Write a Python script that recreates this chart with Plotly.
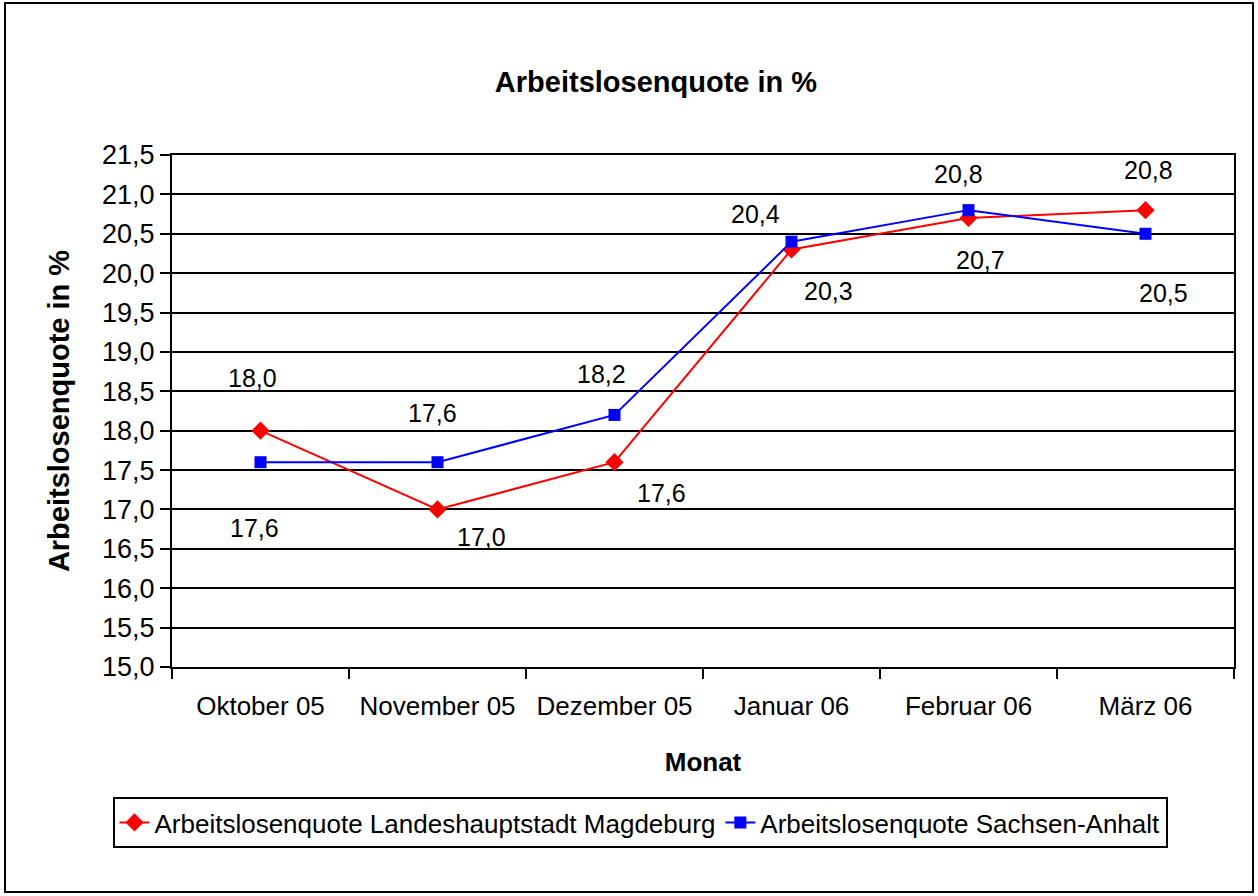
import plotly.graph_objects as go

months = ["Oktober 05", "November 05", "Dezember 05", "Januar 06", "Februar 06", "März 06"]
magdeburg = [18.0, 17.0, 17.6, 20.3, 20.7, 20.8]
sachsen_anhalt = [17.6, 17.6, 18.2, 20.4, 20.8, 20.5]
name_md = "Arbeitslosenquote Landeshauptstadt Magdeburg"
name_sa = "Arbeitslosenquote Sachsen-Anhalt"
title_text = "Arbeitslosenquote in %"
y_title = "Arbeitslosenquote in %"
x_title = "Monat"

# label pixel offsets (dx right, dy down)
md_offsets = [(-8, -53), (44, 28), (47, 31), (37, 41), (12, 42), (3, -40)]
sa_offsets = [(-6, 66), (-5, -49), (-13, -41), (-36, -28), (-10, -36), (18, 59)]

FONT = "Liberation Sans, Arial, sans-serif"
W, H = 1258, 896
L, R, T, B = 172, 1234, 155, 667
pw, ph = R - L, B - T

def px(xp):
    return (xp - L) / pw

def py(yp):
    return (B - yp) / ph

fig = go.Figure()
fig.add_trace(go.Scatter(
    x=months, y=magdeburg, name=name_md, mode="lines+markers",
    line=dict(color="#FF0000", width=2),
    marker=dict(symbol="diamond", size=14, color="#FF0000"),
))
fig.add_trace(go.Scatter(
    x=months, y=sachsen_anhalt, name=name_sa, mode="lines+markers",
    line=dict(color="#0000FF", width=2),
    marker=dict(symbol="square", size=12, color="#0000FF"),
))

def fmt(v):
    return f"{v:.1f}".replace(".", ",")

annotations = []
for m, v, (dx, dy) in zip(months, magdeburg, md_offsets):
    annotations.append(dict(x=m, y=v, xref="x", yref="y", text=fmt(v), showarrow=False,
                            xshift=dx, yshift=-dy, font=dict(family=FONT, size=25, color="black")))
for m, v, (dx, dy) in zip(months, sachsen_anhalt, sa_offsets):
    annotations.append(dict(x=m, y=v, xref="x", yref="y", text=fmt(v), showarrow=False,
                            xshift=dx, yshift=-dy, font=dict(family=FONT, size=25, color="black")))

fig.update_layout(
    width=W, height=H,
    margin=dict(l=L, r=W - R, t=T, b=H - B, autoexpand=False),
    paper_bgcolor="white", plot_bgcolor="white",
    separators=",.",
    font=dict(family=FONT, size=25, color="black"),
    title=dict(text="<b>" + title_text + "</b>", x=656 / W, xref="container", xanchor="center",
               y=1 - 82 / H, yref="container", yanchor="middle",
               font=dict(family=FONT, size=29, color="black")),
    xaxis=dict(
        type="category", tickson="boundaries", ticks="outside", ticklen=10, tickwidth=2,
        tickcolor="black", showline=True, linecolor="black", linewidth=2, mirror=True,
        showgrid=False, tickfont=dict(family=FONT, size=26, color="black"),
        ticklabelstandoff=15, tickangle=0,
        range=[-0.5, 5.5],
        title=dict(text="<b>" + x_title + "</b>", standoff=33,
                   font=dict(family=FONT, size=26, color="black")),
    ),
    yaxis=dict(
        range=[15, 21.5], dtick=0.5, tick0=15, tickformat=".1f", ticks="outside", ticklen=10,
        tickwidth=2, tickcolor="black", showline=True, linecolor="black", linewidth=2, mirror=True,
        showgrid=True, gridcolor="black", gridwidth=2, zeroline=False,
        tickfont=dict(family=FONT, size=27, color="black"),
        title=dict(text="<b>" + y_title + "</b>", standoff=24,
                   font=dict(family=FONT, size=29, color="black")),
    ),
    legend=dict(
        orientation="h", xref="container", yref="container",
        x=640 / W, xanchor="center", y=1 - 797 / H, yanchor="top",
        bordercolor="black", borderwidth=2, bgcolor="white",
        font=dict(family=FONT, size=26, color="black"),
    ),
    annotations=annotations,
    shapes=[dict(type="rect", xref="paper", yref="paper",
                 x0=px(5), x1=px(1253), y0=py(892), y1=py(3),
                 line=dict(color="black", width=2), fillcolor="rgba(0,0,0,0)", layer="below")],
)

fig.write_html("out.html", config={"displayModeBar": False},
               post_script="document.body.style.margin='0';")
